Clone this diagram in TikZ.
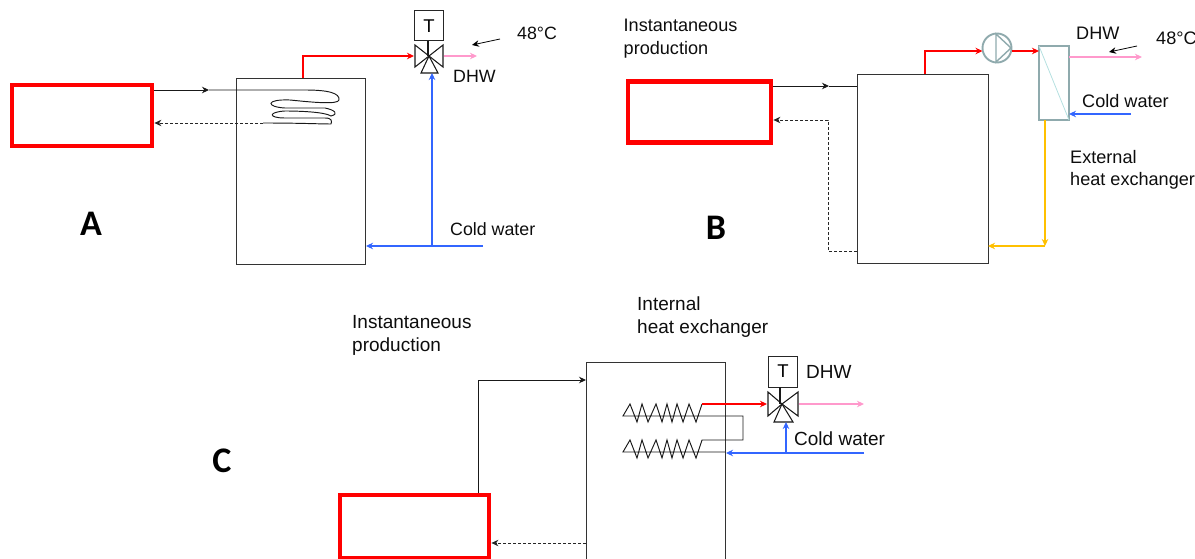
\documentclass[tikz,border=0pt]{standalone}
\usepackage{fontspec}
\setmainfont{Liberation Sans}
\newfontfamily\labelfont[BoldFont={Carlito Bold}]{Carlito}
\usetikzlibrary{arrows.meta,calc}
\definecolor{hotred}{HTML}{FF0000}
\definecolor{dhwpink}{HTML}{FF99CC}
\definecolor{coldblue}{HTML}{3366FF}
\definecolor{loopyellow}{HTML}{FFC000}
\definecolor{pumpgrey}{HTML}{8FAAAD}
\definecolor{diagcyan}{HTML}{B5E0E0}
\tikzset{
  x=1pt,y=-1pt,
  tank/.style={draw=black!80,line width=.9pt,inner sep=0,outer sep=0,rectangle},
  burner/.style={draw=hotred,line width=4.8pt,inner sep=0,outer sep=2.4pt,rectangle},
  tbox/.style={draw=black!85,line width=1pt,inner sep=0,outer sep=0,minimum width=29pt,minimum height=30pt,font=\fontsize{18.5pt}{20pt}\selectfont},
  txt/.style={anchor=west,inner sep=0,font=\fontsize{17.8pt}{22.4pt}\selectfont,align=left,text=black!95},
  txtb/.style={txt,font=\fontsize{18.1pt}{22.4pt}\selectfont},
  txtc/.style={txt,font=\fontsize{19pt}{23pt}\selectfont},
  biglabel/.style={inner sep=0,font=\labelfont\bfseries\fontsize{36pt}{38pt}\selectfont},
  tipp/.style={-{Stealth[length=7pt,width=6.5pt]}},
  hot/.style={tipp,draw=hotred,line width=2.4pt},
  dhw/.style={tipp,draw=dhwpink,line width=2.4pt},
  cold/.style={tipp,draw=coldblue,line width=2.4pt},
  loopy/.style={tipp,draw=loopyellow,line width=2.4pt},
  pipe/.style={draw=black!90,line width=.95pt},
  ret/.style={draw=black!85,line width=.9pt,dash pattern=on 3pt off 2pt},
  note/.style={tipp,draw=black,line width=.8pt},
  valve/.style={draw=black!90,line width=1.05pt},
}
\begin{document}
\begin{tikzpicture}
\useasboundingbox (0,0) rectangle (1195,559);
\clip (0,0) rectangle (1195,559);
% ---------- A ----------
\node[burner,minimum width=140pt,minimum height=61pt] (burnerA) at (82,115.5) {};
\node[tank,minimum width=129pt,minimum height=186pt] (tankA) at (300.5,171) {};
\node[tbox] (tA) at (429,26) {T};
\coordinate (vA) at (429,56);
\coordinate (coilAin) at (263,90);
\coordinate (coilAout) at (263,123);
\draw[valve] (tA.south) ++(-1,0) -- ($(vA)+(-1,0)$);
\draw[valve] (vA) -- (415,45) -- (415,67) -- cycle;
\draw[valve] (vA) -- (443,45) -- (443,67) -- cycle;
\draw[valve] (vA) -- (421,73) -- (438,73) -- cycle;
\coordinate (aRed) at (303,56);
\draw[hot] (303,78) -- (aRed) -- (414,56);
\draw[dhw] (444,56) -- (477,56);
\coordinate (aT) at (432,246);
\draw[cold] (483,246) -- (366,246);
\draw[cold] (aT) -- (432,73);
\draw[pipe,tipp] (burnerA.east |- coilAin) -- (209,90);
\draw[pipe] (209,90) -- (coilAin) -- (305,90)
  .. controls (328,90) and (340,93) .. (339,100)
  .. controls (338,105) and (310,102) .. (290,100)
  .. controls (265,99) and (266,107) .. (285,108)
  -- (325,108)
  .. controls (335,110) and (339,114) .. (331,116)
  .. controls (325,112) and (300,111) .. (285,111)
  .. controls (268,112) and (268,118) .. (285,118)
  -- (325,118) .. controls (332,118) and (332,121) .. (331,124)
  .. controls (320,124) and (300,123) .. (coilAout);
\draw[ret,tipp] (coilAout) -- (burnerA.east |- coilAout);
\draw[note] (500,39) -- (472,45);
\node[txt] (tA48) at (517,33) {48°C};
\node[txt] (tAdhw) at (453,76) {DHW};
\node[txt] (tAcold) at (450,229) {Cold water};
\node[biglabel] (labA) at (91,224) {A};
% ---------- B ----------
\node[burner,minimum width=143pt,minimum height=61pt] (burnerB) at (699.5,112) {};
\node[tank,minimum width=131pt,minimum height=189pt] (tankB) at (922.5,168.5) {};
\node[draw=pumpgrey,line width=1.9pt,circle,minimum size=29pt,inner sep=0,outer sep=0] (pumpB) at (997,48) {};
\draw[draw=pumpgrey,line width=1.4pt] (996,34) -- (1011,48) -- (996,62) -- cycle;
\node[draw=pumpgrey,line width=1.9pt,rectangle,minimum width=30pt,minimum height=74pt,inner sep=0,outer sep=0] (hexB) at (1054,83) {};
\draw[diagcyan,line width=.8pt] (hexB.north west) -- (hexB.south east);
\draw[hot] (925,74) -- (925,51) -- (pumpB.west |- 0,51);
\draw[hot] (pumpB.east |- 0,51) -- (hexB.west |- 0,51);
\draw[dhw] (hexB.east |- 0,57) -- (1142,57);
\coordinate (bColdStart) at (1131,114);
\draw[cold] (bColdStart) -- (hexB.east |- bColdStart);
\draw[note] (1137,46) -- (1109,52);
\coordinate (bY) at (1045,246);
\draw[loopy] (hexB.south -| bY) -- (bY);
\draw[loopy] (bY) -- (tankB.east |- bY);
\draw[pipe,tipp] (burnerB.east |- 0,86) -- (829,86);
\draw[pipe] (829,86) -- (tankB.west |- 0,86);
\draw[ret,tipp] (tankB.west |- 0,251) -- (828,251) -- (828,120) -- (burnerB.east |- 0,120);
\node[txtb] (tBinst) at (623.5,38.5) {Instantaneous\\production};
\node[txtb] (tBdhw) at (1076,33) {DHW};
\node[txtb] (tB48) at (1156,38) {48°C};
\node[txtb] (tBcold) at (1082,101) {Cold water};
\node[txtb] (tBext) at (1070,170) {External\\heat exchanger};
\node[biglabel] (labB) at (716,228) {B};
% ---------- C ----------
\node[burner,minimum width=149pt,minimum height=63pt] (burnerC) at (414.5,526.5) {};
\node[tank,minimum width=139pt,minimum height=260pt] (tankC) at (655.5,492) {};
\node[tbox,minimum height=31pt] (tC) at (783,371.5) {T};
\coordinate (vC) at (782,404);
\draw[valve] (tC.south) ++(-3,0) -- ($(vC)+(-2,0)$);
\draw[valve] (vC) -- (768,392) -- (768,416) -- cycle;
\draw[valve] (vC) -- (798,392) -- (798,416) -- cycle;
\draw[valve] (vC) -- (774,422) -- (793,422) -- cycle;
\coordinate (zzU) at (702,404);
\coordinate (zzL) at (702,440);
\draw[pipe] (zzU) -- (696,422) -- (689,404) -- (683,422) -- (677,404) -- (672,422) -- (667,404) -- (662,422) -- (656,404) -- (648,422) -- (642,404) -- (637,422) -- (630,404) -- (623,416) -- (743,416) -- (743,440) -- (zzL)
  -- (696,458) -- (689,440) -- (683,458) -- (677,440) -- (672,458) -- (667,440) -- (662,458) -- (656,440) -- (648,458) -- (642,440) -- (637,458) -- (630,440) -- (623,452) -- (tankC.east |- 0,452);
\draw[hot] (zzU) -- (767,404);
\draw[dhw] (799,404) -- (864,404);
\coordinate (cT) at (786,453);
\draw[cold] (864,453) -- (726,453);
\draw[cold] (cT) -- (786,422);
\draw[pipe] (478,493) -- (478,380) -- (560,380);
\draw[pipe,tipp] (560,380) -- (tankC.west |- 0,380);
\draw[ret,tipp] (tankC.west |- 0,543) -- (burnerC.east |- 0,543);
\node[txtc] (tCinst) at (352,335) {Instantaneous\\production};
\node[txtc] (tCint) at (637,317) {Internal\\heat exchanger};
\node[txtc] (tCdhw) at (806,372) {DHW};
\node[txtc] (tCcold) at (794,439) {Cold water};
\node[biglabel] (labC) at (222,461) {C};
\end{tikzpicture}
\end{document}
